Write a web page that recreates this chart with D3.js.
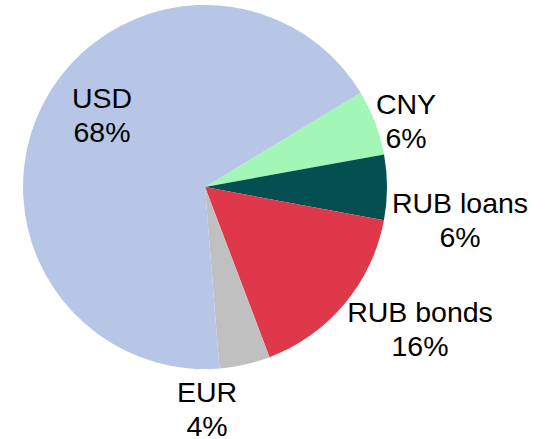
<!DOCTYPE html>
<html><head><meta charset="utf-8">
<script src="https://cdn.jsdelivr.net/npm/d3@7"></script>
<style>html,body{margin:0;padding:0;background:#fff;}svg{display:block;}</style>
</head><body>
<svg id="chart" width="548" height="439"></svg>
<script>
const categories = ["CNY", "RUB loans", "RUB bonds", "EUR", "USD"];
const values = [5.8, 5.8, 16.3, 4.5, 67.6];
const pctLabels = ["6%", "6%", "16%", "4%", "68%"];
const colors = ["#a2f7b6", "#044f50", "#df384a", "#c0c0c0", "#b7c6e6"];

const W = 548, H = 439, cx = 205, cy = 187, R = 182;
const startDeg = 58.8;
// label anchor positions (center x, first baseline y)
const labelPos = [[406, 114], [460, 213], [420, 322], [207, 402], [102, 108]];

const svg = d3.select("#chart");
const g = svg.append("g").attr("transform", `translate(${cx},${cy})`);
const pie = d3.pie().sort(null).value(d => d)
  .startAngle(startDeg * Math.PI / 180)
  .endAngle(startDeg * Math.PI / 180 + 2 * Math.PI);
const arc = d3.arc().innerRadius(0).outerRadius(R);
g.selectAll("path").data(pie(values)).join("path")
  .attr("d", arc).attr("fill", (d, i) => colors[i]);

const lg = svg.append("g").attr("font-family", "Liberation Sans, Arial, sans-serif")
  .attr("font-size", 28.5).attr("fill", "#000").attr("text-anchor", "middle");
categories.forEach((c, i) => {
  const t = lg.append("text").attr("x", labelPos[i][0]).attr("y", labelPos[i][1]);
  t.append("tspan").attr("x", labelPos[i][0]).text(c);
  t.append("tspan").attr("x", labelPos[i][0]).attr("dy", 33.5).text(pctLabels[i]);
});
</script>
</body></html>
